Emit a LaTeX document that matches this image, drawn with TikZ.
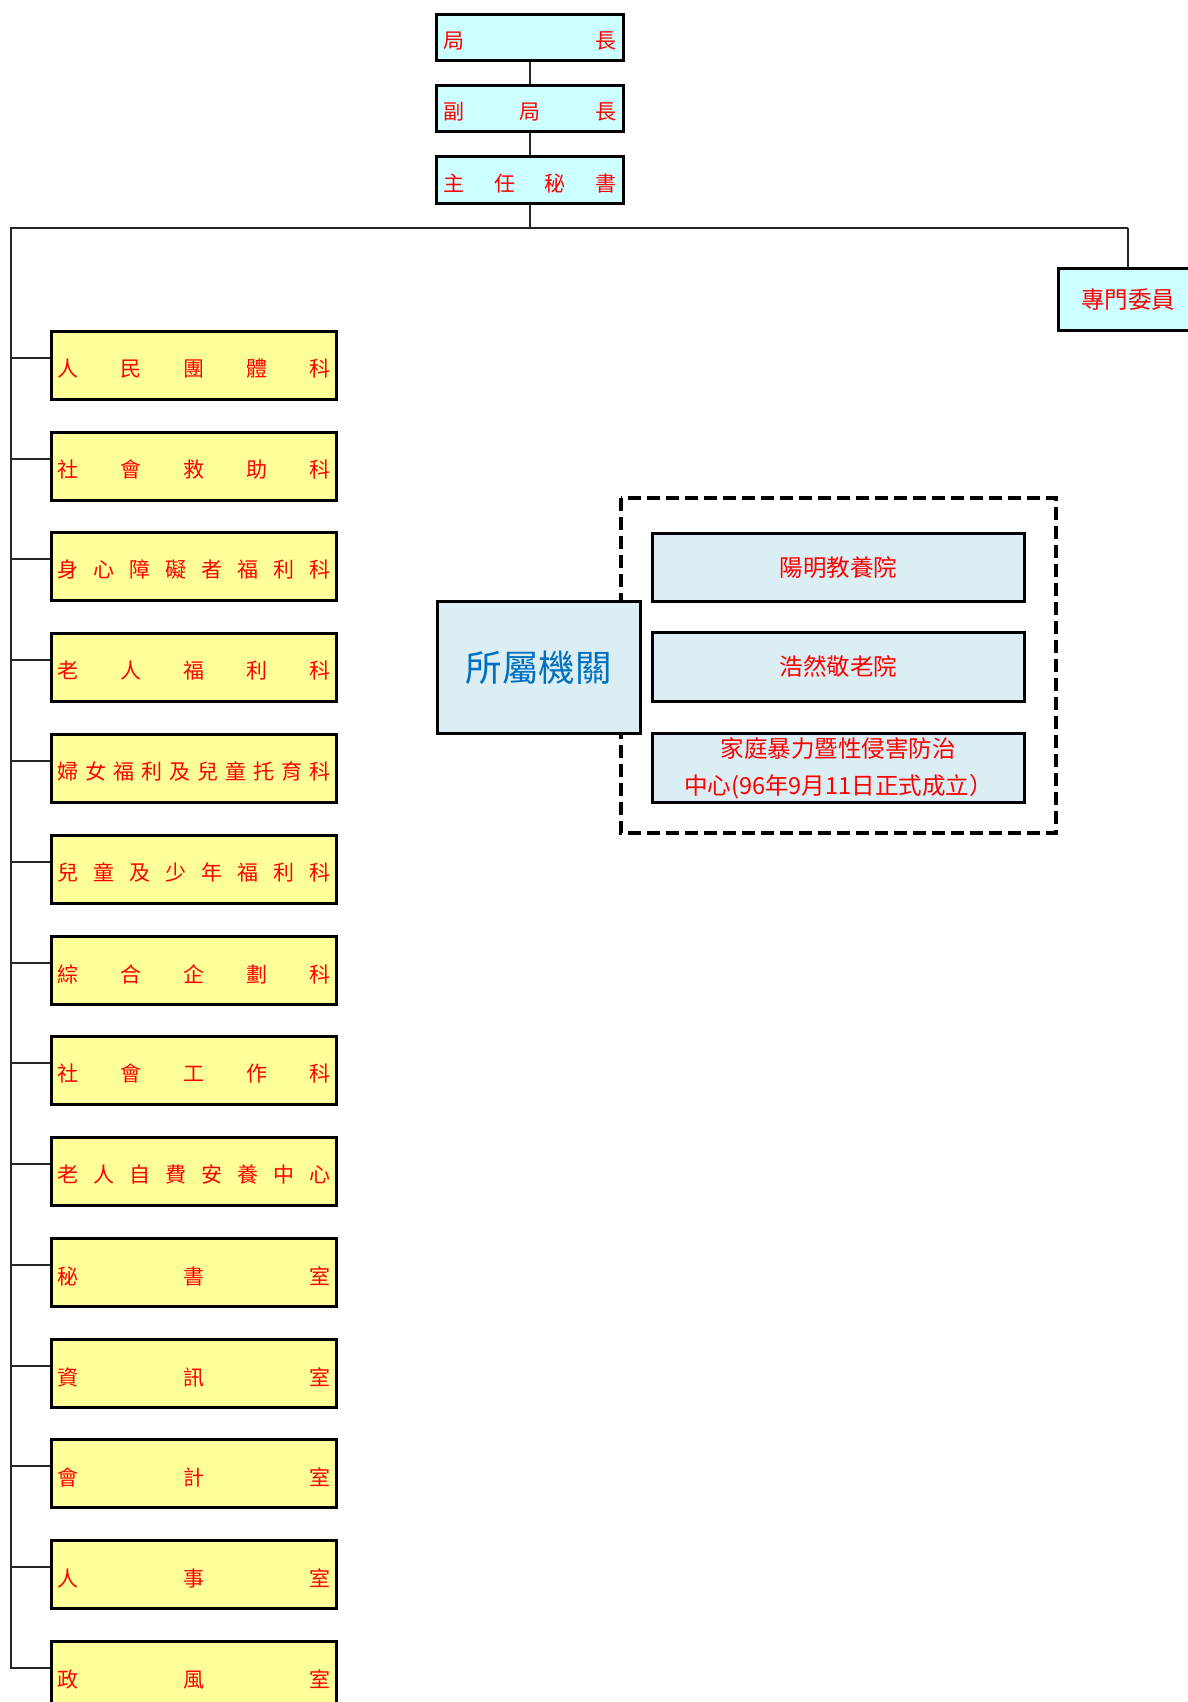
\documentclass[tikz,border=0pt]{standalone}
\usepackage{fontspec}
\newfontfamily\cjk{Noto Sans CJK TC}
\definecolor{cyanF}{HTML}{CCFFFF}
\definecolor{yelF}{HTML}{FFFF99}
\definecolor{lbF}{HTML}{DAEEF3}
\definecolor{redT}{HTML}{FF0000}
\definecolor{blueT}{HTML}{0070C0}
\newcommand{\spr}[2]{\raisebox{-3.5pt}[\height][\depth]{\makebox[#1pt][s]{#2}}}
\begin{document}
\begin{tikzpicture}[x=1pt,y=-1pt,
  box/.style={draw=black,line width=2.9pt,anchor=north west,inner sep=0pt,text=redT,
    font=\cjk\fontsize{21}{24}\selectfont},
  topbox/.style={box,fill=cyanF,minimum width=187pt,minimum height=46pt},
  ybox/.style={box,fill=yelF,minimum width=285pt,minimum height=68pt},
  lbox/.style={box,fill=lbF,minimum width=372pt,minimum height=68pt,font=\cjk\fontsize{23.5}{37}\selectfont,align=center},
  conn/.style={draw=black!85,line width=2pt}]
\useasboundingbox (0,0) rectangle (1187,1702);
\fill[white] (0,0) rectangle (1187,1702);

% top chain
\node[topbox] (ju) at (435,13) {\spr{173}{局\hfill 長}};
\node[topbox] (fu) at (435,84) {\spr{173}{副\hfill 局\hfill 長}};
\node[topbox,minimum height=47pt] (zr) at (435,155) {\spr{173}{主\hfill 任\hfill 秘\hfill 書}};
\node[box,fill=cyanF,minimum width=140pt,minimum height=62pt,font=\cjk\fontsize{23.5}{26}\selectfont] (zm) at (1057,267) {專門委員};

% units
\node[ybox] (b1) at (50,330) {\spr{273}{人\hfill 民\hfill 團\hfill 體\hfill 科}};
\node[ybox] (b2) at (50,431) {\spr{273}{社\hfill 會\hfill 救\hfill 助\hfill 科}};
\node[ybox] (b3) at (50,531) {\spr{273}{身\hfill 心\hfill 障\hfill 礙\hfill 者\hfill 福\hfill 利\hfill 科}};
\node[ybox] (b4) at (50,632) {\spr{273}{老\hfill 人\hfill 福\hfill 利\hfill 科}};
\node[ybox] (b5) at (50,733) {\spr{273}{婦\hfill 女\hfill 福\hfill 利\hfill 及\hfill 兒\hfill 童\hfill 托\hfill 育\hfill 科}};
\node[ybox] (b6) at (50,834) {\spr{273}{兒\hfill 童\hfill 及\hfill 少\hfill 年\hfill 福\hfill 利\hfill 科}};
\node[ybox] (b7) at (50,935) {\spr{273}{綜\hfill 合\hfill 企\hfill 劃\hfill 科}};
\node[ybox] (b8) at (50,1035) {\spr{273}{社\hfill 會\hfill 工\hfill 作\hfill 科}};
\node[ybox] (b9) at (50,1136) {\spr{273}{老\hfill 人\hfill 自\hfill 費\hfill 安\hfill 養\hfill 中\hfill 心}};
\node[ybox] (b10) at (50,1237) {\spr{273}{秘\hfill 書\hfill 室}};
\node[ybox] (b11) at (50,1338) {\spr{273}{資\hfill 訊\hfill 室}};
\node[ybox] (b12) at (50,1438) {\spr{273}{會\hfill 計\hfill 室}};
\node[ybox] (b13) at (50,1539) {\spr{273}{人\hfill 事\hfill 室}};
\node[ybox] (b14) at (50,1640) {\spr{273}{政\hfill 風\hfill 室}};

% affiliated institutions
\draw[line width=4pt,dash pattern=on 13pt off 6pt] (621,498) rectangle (1056,833);
\node[box,fill=lbF,minimum width=203pt,minimum height=132pt,text=blueT,
  font=\cjk\fontsize{36.5}{40}\selectfont] (ss) at (436,600) {所屬機關};
\node[lbox] (s1) at (651,532) {陽明教養院};
\node[lbox,minimum height=69pt] (s2) at (651,631) {浩然敬老院};
\node[lbox,minimum height=69pt] (s3) at (651,732) {家庭暴力暨性侵害防治\\中心(96年9月11日正式成立）};

% connectors
\coordinate (tl) at (11,228);
\coordinate (tr) at (zm.north |- tl);
\draw[conn] (ju.south) -- (fu.north);
\draw[conn] (fu.south) -- (zr.north);
\draw[conn] (zr.south) -- (zr.south |- tl);
\draw[conn] (tr) -- (zm.north);
\draw[conn] ([yshift=7pt]b14.west) -| (tl) -- (tr);
\foreach \i in {1,...,13}
  \draw[conn] ([yshift=7pt]b\i.west) -- ([yshift=7pt]b\i.west -| tl);
\end{tikzpicture}
\end{document}
